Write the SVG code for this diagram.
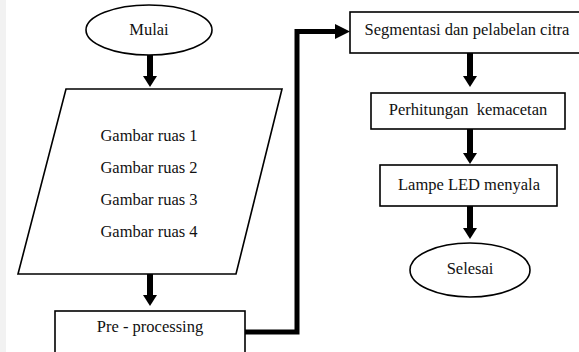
<svg xmlns="http://www.w3.org/2000/svg" width="579" height="352" viewBox="0 0 579 352">
<style>
.s{fill:#fff;stroke:#000;stroke-width:1.6}
.t{font-size:16.5px;fill:#111;text-anchor:middle;dominant-baseline:central}
.c{fill:none;stroke:#000;stroke-linejoin:miter}
</style>
<defs>
<marker id="ad" markerUnits="userSpaceOnUse" markerWidth="12" markerHeight="16" refX="0" refY="7" orient="auto" overflow="visible">
<path d="M0,0 L11,7 L0,14 z" fill="#000"/>
</marker>
<marker id="ar" markerUnits="userSpaceOnUse" markerWidth="16" markerHeight="16" refX="0" refY="7.5" orient="auto" overflow="visible">
<path d="M0,0 L15,7.5 L0,15 z" fill="#000"/>
</marker>
</defs>
<rect x="0" y="0" width="579" height="352" fill="#fff"/>
<rect x="0" y="0" width="6" height="352" fill="#f2f2f2"/>
<g id="connectors">
<line class="c" x1="150" y1="55" x2="150" y2="76" stroke-width="6" marker-end="url(#ad)"/>
<line class="c" x1="150" y1="274" x2="150" y2="295" stroke-width="6" marker-end="url(#ad)"/>
<polyline class="c" points="245,332 297,332 297,31.5 335,31.5" stroke-width="5" marker-end="url(#ar)"/>
<line class="c" x1="470" y1="53" x2="470" y2="76" stroke-width="6" marker-end="url(#ad)"/>
<line class="c" x1="470" y1="129" x2="470" y2="153" stroke-width="6" marker-end="url(#ad)"/>
<line class="c" x1="470" y1="206" x2="470" y2="228" stroke-width="6" marker-end="url(#ad)"/>
</g>
<g id="mulai">
<ellipse class="s" cx="149" cy="30" rx="63" ry="25"/>
<text class="t" font-family="Liberation Serif, serif" x="149" y="29">Mulai</text>
</g>
<g id="gambar">
<polygon class="s" points="66,89 282,89 236,274 18,274"/>
<text class="t" font-family="Liberation Serif, serif" x="149" y="135">Gambar ruas 1</text>
<text class="t" font-family="Liberation Serif, serif" x="149" y="167">Gambar ruas 2</text>
<text class="t" font-family="Liberation Serif, serif" x="149" y="199">Gambar ruas 3</text>
<text class="t" font-family="Liberation Serif, serif" x="149" y="231">Gambar ruas 4</text>
</g>
<g id="preprocessing">
<rect class="s" x="55" y="311" width="190" height="50"/>
<text class="t" font-family="Liberation Serif, serif" x="150" y="326">Pre - processing</text>
</g>
<g id="segmentasi">
<rect class="s" x="350" y="12" width="240" height="41"/>
<text class="t" font-family="Liberation Serif, serif" x="467" y="29">Segmentasi dan pelabelan citra</text>
</g>
<g id="perhitungan">
<rect class="s" x="371" y="93" width="194" height="36"/>
<text class="t" font-family="Liberation Serif, serif" x="468" y="109" xml:space="preserve">Perhitungan  kemacetan</text>
</g>
<g id="lampe">
<rect class="s" x="380" y="165" width="177" height="41"/>
<text class="t" font-family="Liberation Serif, serif" x="469" y="184">Lampe LED menyala</text>
</g>
<g id="selesai">
<ellipse class="s" cx="470" cy="270" rx="60" ry="27"/>
<text class="t" font-family="Liberation Serif, serif" x="470" y="268">Selesai</text>
</g>
</svg>
